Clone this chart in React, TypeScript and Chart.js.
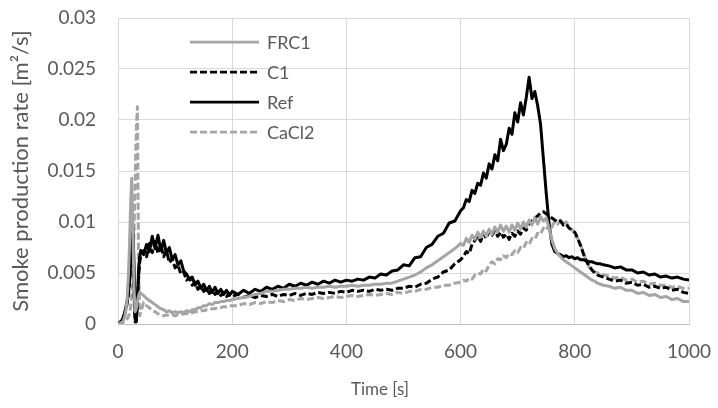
import React, { useEffect, useRef } from "react";
import { Chart, registerables } from "chart.js";

Chart.register(...registerables);

// Sampling times [s]
const timeS = [
  0, 2, 4, 6, 8, 10, 12, 14, 16, 18, 20, 22, 24, 26, 28, 30, 32, 34, 36, 38, 40,
  45, 50, 55, 60, 65, 70, 75, 80, 85, 90, 95, 100, 105, 110, 115, 120, 125, 130, 135, 140,
  145, 150, 155, 160, 165, 170, 175, 180, 185, 190, 195, 200,
  210, 220, 230, 240, 250, 260, 270, 280, 290, 300, 310, 320, 330, 340, 350, 360, 370, 380, 390, 400,
  410, 420, 430, 440, 450, 460, 470, 480, 490, 500, 510, 520, 530, 540, 550, 560, 570, 580, 590, 600,
  605, 610, 615, 620, 625, 630, 635, 640, 645, 650, 655, 660, 665, 670, 675, 680, 685, 690, 695, 700,
  705, 710, 715, 720, 725, 730, 735, 740, 745, 750, 755, 760, 765, 770, 775, 780, 785, 790, 795, 800,
  805, 810, 815, 820, 825, 830, 835, 840, 845, 850,
  860, 870, 880, 890, 900, 910, 920, 930, 940, 950, 960, 970, 980, 990, 1000,
];

const frc1 = [
  0, 0, 0.0001, 0.0001, 0.0002, 0.0004, 0.0008, 0.0014, 0.0025, 0.0045, 0.0075, 0.0115, 0.0143, 0.0095, 0.0035, 0.0012, 0.0015, 0.0022, 0.0028, 0.0031, 0.0030,
  0.0028, 0.0025, 0.0023, 0.0021, 0.0019, 0.0017, 0.0015, 0.0014, 0.0012, 0.0013, 0.0011, 0.0012, 0.0011, 0.0012, 0.0011, 0.0013, 0.0012, 0.0014, 0.0014, 0.0016,
  0.0016, 0.0018, 0.0018, 0.0020, 0.0019, 0.0021, 0.0021, 0.0022, 0.0022, 0.0023, 0.0023, 0.0024,
  0.0025, 0.0026, 0.0027, 0.0029, 0.0030, 0.0032, 0.0032, 0.0033, 0.0034, 0.0034, 0.0035, 0.0035, 0.0036, 0.0035, 0.0036, 0.0036, 0.0037, 0.0036, 0.0037, 0.0037,
  0.0038, 0.0037, 0.0038, 0.0038, 0.0039, 0.0039, 0.0040, 0.0040, 0.0042, 0.0044, 0.0046, 0.0048, 0.0051, 0.0055, 0.0058, 0.0062, 0.0066, 0.0070, 0.0074, 0.0079,
  0.0077, 0.0084, 0.0080, 0.0087, 0.0083, 0.0090, 0.0085, 0.0091, 0.0086, 0.0093, 0.0088, 0.0095, 0.0090, 0.0097, 0.0091, 0.0096, 0.0090, 0.0097, 0.0092, 0.0099,
  0.0093, 0.0100, 0.0095, 0.0102, 0.0097, 0.0104, 0.0098, 0.0105, 0.0101, 0.0104, 0.0094, 0.0082, 0.0074, 0.0069, 0.0066, 0.0063, 0.0061, 0.0059, 0.0057, 0.0055,
  0.0053, 0.0051, 0.0049, 0.0047, 0.0045, 0.0043, 0.0042, 0.0040, 0.0039, 0.0038,
  0.0037, 0.0035, 0.0036, 0.0033, 0.0033, 0.0030, 0.0031, 0.0028, 0.0029, 0.0026, 0.0027, 0.0024, 0.0025, 0.0022, 0.0022,
];

const c1 = [
  0, 0, 0.0001, 0.0002, 0.0004, 0.0006, 0.0010, 0.0015, 0.0020, 0.0027, 0.0038, 0.0055, 0.0088, 0.0078, 0.0030, 0.0002, 0.0003, 0.0020, 0.0045, 0.0060, 0.0068,
  0.0072, 0.0066, 0.0079, 0.0070, 0.0081, 0.0069, 0.0078, 0.0066, 0.0072, 0.0060, 0.0064, 0.0055, 0.0058, 0.0049, 0.0051, 0.0043, 0.0045, 0.0038, 0.0041, 0.0034,
  0.0037, 0.0032, 0.0035, 0.0030, 0.0033, 0.0029, 0.0032, 0.0028, 0.0031, 0.0027, 0.0030, 0.0027,
  0.0029, 0.0026, 0.0028, 0.0026, 0.0028, 0.0027, 0.0029, 0.0027, 0.0029, 0.0028, 0.0030, 0.0028, 0.0030, 0.0029, 0.0031, 0.0030, 0.0031, 0.0030, 0.0032, 0.0031,
  0.0033, 0.0032, 0.0033, 0.0032, 0.0034, 0.0033, 0.0034, 0.0033, 0.0035, 0.0035, 0.0037, 0.0036, 0.0039, 0.0040, 0.0044, 0.0046, 0.0051, 0.0053, 0.0059, 0.0063,
  0.0066, 0.0071, 0.0069, 0.0078, 0.0082, 0.0086, 0.0081, 0.0089, 0.0084, 0.0091, 0.0087, 0.0092, 0.0086, 0.0090, 0.0085, 0.0088, 0.0083, 0.0089, 0.0086, 0.0091,
  0.0088, 0.0094, 0.0092, 0.0099, 0.0101, 0.0104, 0.0106, 0.0109, 0.0110, 0.0108, 0.0106, 0.0104, 0.0102, 0.0100, 0.0101, 0.0097, 0.0098, 0.0094, 0.0092, 0.0090,
  0.0084, 0.0077, 0.0069, 0.0062, 0.0057, 0.0053, 0.0050, 0.0048, 0.0047, 0.0046,
  0.0044, 0.0042, 0.0043, 0.0040, 0.0041, 0.0038, 0.0039, 0.0036, 0.0037, 0.0035, 0.0036, 0.0033, 0.0034, 0.0031, 0.0030,
];

const ref = [
  0, 0.0001, 0.0002, 0.0003, 0.0005, 0.0008, 0.0012, 0.0017, 0.0023, 0.0030, 0.0042, 0.0058, 0.0082, 0.0094, 0.0060, 0.0005, 0.0002, 0.0025, 0.0052, 0.0066, 0.0072,
  0.0068, 0.0078, 0.0071, 0.0086, 0.0074, 0.0087, 0.0072, 0.0082, 0.0069, 0.0075, 0.0063, 0.0068, 0.0058, 0.0062, 0.0052, 0.0049, 0.0044, 0.0046, 0.0038, 0.0042,
  0.0035, 0.0039, 0.0033, 0.0037, 0.0031, 0.0036, 0.0030, 0.0034, 0.0029, 0.0033, 0.0028, 0.0032,
  0.0029, 0.0033, 0.0030, 0.0034, 0.0032, 0.0036, 0.0034, 0.0037, 0.0035, 0.0039, 0.0037, 0.0040, 0.0038, 0.0041, 0.0039, 0.0042, 0.0040, 0.0043, 0.0041, 0.0043,
  0.0042, 0.0044, 0.0043, 0.0046, 0.0045, 0.0049, 0.0048, 0.0052, 0.0053, 0.0058, 0.0057, 0.0065, 0.0066, 0.0075, 0.0078, 0.0086, 0.0089, 0.0099, 0.0101, 0.0111,
  0.0114, 0.0122, 0.0120, 0.0131, 0.0128, 0.0138, 0.0136, 0.0148, 0.0143, 0.0157, 0.0152, 0.0166, 0.0160, 0.0181, 0.0170, 0.0176, 0.0192, 0.0186, 0.0207, 0.0198,
  0.0217, 0.0205, 0.0222, 0.0242, 0.0221, 0.0228, 0.0214, 0.0196, 0.0162, 0.0128, 0.0098, 0.0078, 0.0071, 0.0069, 0.0068, 0.0066, 0.0067, 0.0065, 0.0066, 0.0064,
  0.0065, 0.0063, 0.0063, 0.0062, 0.0061, 0.0061, 0.0060, 0.0059, 0.0059, 0.0058,
  0.0057, 0.0055, 0.0056, 0.0053, 0.0053, 0.0050, 0.0051, 0.0048, 0.0049, 0.0046, 0.0047, 0.0045, 0.0046, 0.0044, 0.0043,
];

const cacl2 = [
  0, 0, 0, 0.0001, 0.0001, 0.0002, 0.0003, 0.0004, 0.0005, 0.0007, 0.0010, 0.0016, 0.0028, 0.0050, 0.0090, 0.0140, 0.0190, 0.0213, 0.0060, 0.0008, 0.0012,
  0.0021, 0.0018, 0.0016, 0.0013, 0.0012, 0.0010, 0.0009, 0.0008, 0.0009, 0.0008, 0.0009, 0.0008, 0.0009, 0.0009, 0.0010, 0.0010, 0.0011, 0.0011, 0.0012, 0.0012,
  0.0013, 0.0013, 0.0014, 0.0014, 0.0015, 0.0015, 0.0016, 0.0016, 0.0017, 0.0017, 0.0018, 0.0018,
  0.0018, 0.0020, 0.0019, 0.0021, 0.0020, 0.0022, 0.0021, 0.0023, 0.0022, 0.0024, 0.0023, 0.0025, 0.0024, 0.0025, 0.0026, 0.0025, 0.0026, 0.0027, 0.0026, 0.0027,
  0.0028, 0.0027, 0.0028, 0.0029, 0.0028, 0.0029, 0.0030, 0.0029, 0.0031, 0.0030, 0.0032, 0.0032, 0.0034, 0.0034, 0.0036, 0.0036, 0.0038, 0.0038, 0.0040, 0.0041,
  0.0043, 0.0042, 0.0045, 0.0044, 0.0048, 0.0050, 0.0049, 0.0054, 0.0052, 0.0058, 0.0061, 0.0059, 0.0064, 0.0063, 0.0067, 0.0065, 0.0069, 0.0068, 0.0072, 0.0070,
  0.0075, 0.0074, 0.0080, 0.0078, 0.0084, 0.0083, 0.0089, 0.0088, 0.0094, 0.0092, 0.0098, 0.0095, 0.0101, 0.0098, 0.0102, 0.0099, 0.0100, 0.0094, 0.0093, 0.0087,
  0.0084, 0.0078, 0.0070, 0.0062, 0.0056, 0.0053, 0.0051, 0.0050, 0.0049, 0.0048,
  0.0047, 0.0045, 0.0046, 0.0043, 0.0044, 0.0041, 0.0042, 0.0039, 0.0040, 0.0038, 0.0038, 0.0036, 0.0037, 0.0035, 0.0035,
];

const seriesNames = ["FRC1", "C1", "Ref", "CaCl2"];
const xTickStep = 200;
const yTickStep = 0.005;
const xTitle = "Time [s]";
const yTitle = "Smoke production rate [m²/s]";

const FONT = "Lato";
const TEXT = "#595959";
const GRID = "#d9d9d9";
const GRAY = "#a5a5a5";

const insideLegend = {
  id: "insideLegend",
  afterDraw(chart: any) {
    const { ctx, chartArea } = chart;
    ctx.save();
    chart.data.datasets.forEach((ds: any, i: number) => {
      const y = chartArea.top + 24 + i * 30;
      const x0 = chartArea.left + 72;
      ctx.strokeStyle = ds.borderColor;
      ctx.lineWidth = 2.75;
      ctx.setLineDash(ds.borderDash || []);
      ctx.beginPath();
      ctx.moveTo(x0, y);
      ctx.lineTo(x0 + 69, y);
      ctx.stroke();
      ctx.setLineDash([]);
      ctx.fillStyle = TEXT;
      ctx.font = `18px ${FONT}`;
      ctx.textBaseline = "middle";
      ctx.textAlign = "left";
      ctx.fillText(ds.label, x0 + 77, y + 1);
    });
    // x-axis title (offset left of the plot centre as in the source)
    ctx.font = `17px ${FONT}`;
    ctx.textAlign = "center";
    ctx.textBaseline = "middle";
    ctx.fillStyle = TEXT;
    ctx.fillText(xTitle, chartArea.left + 262, 390);
    ctx.restore();
  },
};

export default function App() {
  const canvasRef = useRef<HTMLCanvasElement | null>(null);

  useEffect(() => {
    if (!canvasRef.current) return;
    const all = [frc1, c1, ref, cacl2];
    const styles = [
      { color: GRAY, dash: [] as number[] },
      { color: "#000000", dash: [7, 3] },
      { color: "#000000", dash: [] as number[] },
      { color: GRAY, dash: [7, 3] },
    ];
    const chart = new Chart(canvasRef.current, {
      type: "line",
      data: {
        datasets: all.map((vals, i) => ({
          label: seriesNames[i],
          data: timeS.map((t, j) => ({ x: t, y: vals[j] })),
          borderColor: styles[i].color,
          borderDash: styles[i].dash,
          borderWidth: 3,
          pointRadius: 0,
          tension: 0,
          fill: false,
          borderJoinStyle: "round" as const,
        })),
      },
      options: {
        animation: false,
        responsive: false,
        devicePixelRatio: 1,
        layout: { padding: { top: 18, right: 29, bottom: 0, left: 0 } },
        plugins: { legend: { display: false }, tooltip: { enabled: false } },
        scales: {
          x: {
            type: "linear",
            min: 0,
            max: 1000,
            ticks: {
              stepSize: xTickStep,
              color: TEXT,
              font: { family: FONT, size: 19 },
              padding: 16,
              maxRotation: 0,
              callback: (v: any) => String(v),
            },
            grid: { color: GRID, lineWidth: 1, drawTicks: false },
            border: { color: "#bfbfbf", width: 1 },
            title: { display: false },
            afterFit: (s: any) => {
              s.height = 84;
              s.paddingLeft = 0;
              s.paddingRight = 0;
            },
          },
          y: {
            type: "linear",
            min: 0,
            max: 0.03,
            ticks: {
              stepSize: yTickStep,
              color: TEXT,
              font: { family: FONT, size: 19 },
              padding: 22,
              callback: (v: any) => String(Number(Number(v).toFixed(3))),
            },
            grid: { color: GRID, lineWidth: 1, drawTicks: false },
            border: { color: GRID, width: 1 },
            title: {
              display: true,
              text: yTitle,
              color: TEXT,
              font: { family: FONT, size: 22 },
              padding: { top: 8, bottom: 0 },
            },
            afterFit: (s: any) => {
              s.width = 118;
              s.paddingTop = 0;
              s.paddingBottom = 0;
            },
          },
        },
      },
      plugins: [insideLegend],
    });
    return () => chart.destroy();
  }, []);

  return (
    <div style={{ position: "absolute", left: 0, top: 0, width: 718, height: 408, background: "#fff" }}>
      <canvas ref={canvasRef} width={718} height={408} />
    </div>
  );
}
